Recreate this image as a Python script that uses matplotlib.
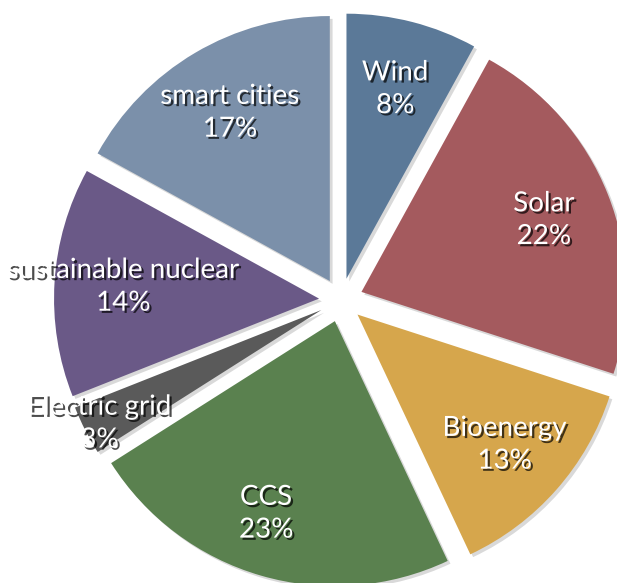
import numpy as np
import matplotlib
matplotlib.use("Agg")
import matplotlib.pyplot as plt
import matplotlib.patheffects as pe

# Share of each technology area (percent), clockwise from 12 o'clock
categories = ["Wind", "Solar", "Bioenergy", "CCS", "Electric grid",
              "sustainable nuclear", "smart cities"]
shares = [8, 22, 13, 23, 3, 14, 17]
colors = ["#5b7998", "#a45a5e", "#d6a64c", "#5a814f", "#5a5a5a",
          "#6a5987", "#7b90aa"]

W, H, DPI = 617, 583, 100
R_PX = 265.0            # pie radius in pixels
CX, CY = 341.0, 300.0   # pie centre in pixels (from top-left)

fig = plt.figure(figsize=(W / DPI, H / DPI), dpi=DPI)
ax = fig.add_axes([0, 0, 1, 1])

explode = [0.083] * len(shares)
wedges, _ = ax.pie(
    shares, explode=explode, colors=colors, startangle=90,
    counterclock=False, radius=1.0, center=(0, 0),
    wedgeprops=dict(linewidth=0),
)
# pie() resets the view, so fix the limits afterwards (1 unit = R_PX pixels)
ax.set_aspect("auto")
ax.set_xlim(-CX / R_PX, (W - CX) / R_PX)
ax.set_ylim(-(H - CY) / R_PX, CY / R_PX)
ax.axis("off")

for w in wedges:
    w.set_path_effects([
        pe.SimplePatchShadow(offset=(2, -2), shadow_rgbFace="#000000", alpha=0.15),
        pe.Normal(),
    ])

label_dist = {"Electric grid": 0.94, "CCS": 0.77}
label_shift = {"CCS": -3.5}   # small angular nudge (degrees)
for w, name, val in zip(wedges, categories, shares):
    mid = np.deg2rad(0.5 * (w.theta1 + w.theta2) + label_shift.get(name, 0.0))
    d = label_dist.get(name, 0.74) * w.r
    x = w.center[0] + d * np.cos(mid)
    y = w.center[1] + d * np.sin(mid)
    t = ax.text(x, y, f"{name}\n{val}%", ha="center", va="center",
                color="white", fontsize=20, family="Lato",
                linespacing=1.32)
    t.set_path_effects([pe.SimplePatchShadow(offset=(1.6, -1.6),
                                              shadow_rgbFace="#000000", alpha=0.7),
                        pe.Normal()])

fig.savefig("out.png", dpi=DPI, facecolor="white")
